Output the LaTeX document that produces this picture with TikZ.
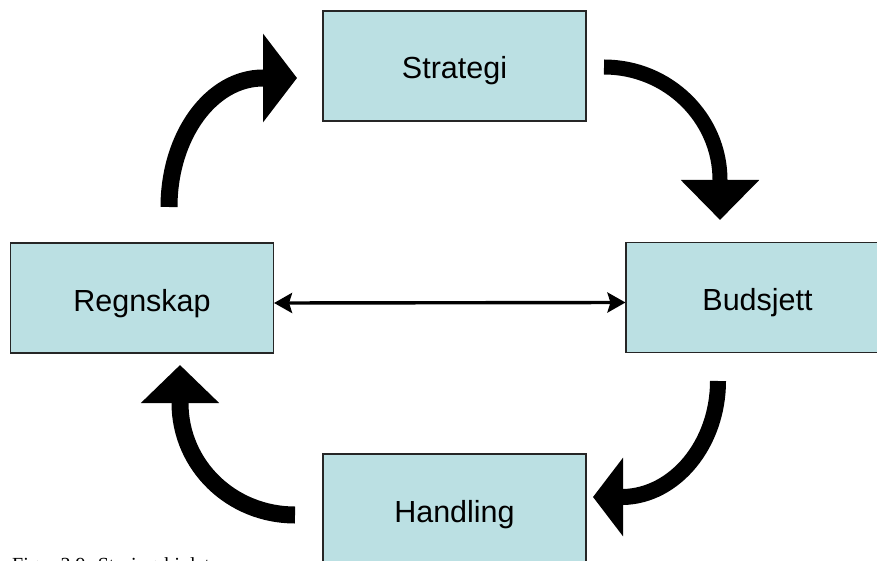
\documentclass[tikz,border=0pt]{standalone}
\usepackage{fontspec}
\setmainfont{Liberation Sans}
\newfontfamily\captionserif{Liberation Serif}
\usetikzlibrary{arrows.meta}
\definecolor{boxfill}{RGB}{187,224,227}
\begin{document}
\begin{tikzpicture}[x=1pt,y=-1pt,
  stagebox/.style={draw=black!85,line width=1.1pt,fill=boxfill,inner sep=0pt,
    minimum width=263pt,minimum height=110pt,
    text height=26pt,text depth=0pt,
    font=\fontsize{30.5}{34}\selectfont},
  cyclearrow/.style={line width=16pt,draw=black},
  linkarrow/.style={line width=3.4pt,{Stealth[length=18pt,width=20pt,inset=3pt]}-{Stealth[length=18pt,width=20pt,inset=3pt]}}
]
\useasboundingbox (0,0) rectangle (877,561);
\clip (0,0) rectangle (877,561);

% the four stages of the cycle
\node[stagebox] (strategi) at (454.5,66)  {Strategi};
\node[stagebox] (budsjett) at (757.5,297.5) {Budsjett};
\node[stagebox] (handling) at (454.5,509) {Handling};
\node[stagebox] (regnskap) at (142,298)   {Regnskap};

% two-way link between accounts and budget
\draw[linkarrow] ([yshift=-5pt]regnskap.east) -- ([yshift=-5pt]budsjett.west);

% curved arrows running clockwise round the cycle
\coordinate (tlA) at (169,207);
\coordinate (tlB) at (297,78);
\draw[cyclearrow,line width=17pt,-{Triangle[length=34pt,width=87pt]}]
  (tlA) .. controls (169,136) and (211,78) .. (263,78) -- (tlB);

\coordinate (trA) at (604,67);
\coordinate (trB) at (720,220);
\draw[cyclearrow,line width=15pt,-{Triangle[length=40pt,width=76pt]}]
  (trA) .. controls (668,67) and (720,118) .. (720,180) -- (trB);

\coordinate (brA) at (718,381);
\coordinate (brB) at (593,497);
\draw[cyclearrow,-{Triangle[length=30pt,width=77pt]}]
  (brA) .. controls (718,444) and (675,496) .. (623,497) -- (brB);

\coordinate (blA) at (295,515);
\coordinate (blB) at (180,365);
\draw[cyclearrow,line width=17pt,-{Triangle[length=38pt,width=76pt]}]
  (blA) .. controls (231,515) and (180,465) .. (180,403) -- (blB);

% figure caption, running off the lower edge
\node[anchor=base west,inner sep=0pt,font=\captionserif\fontsize{20}{24}\selectfont]
  (caption) at (12,571) {Figur 3.9: Styringshjulet};
\end{tikzpicture}
\end{document}
